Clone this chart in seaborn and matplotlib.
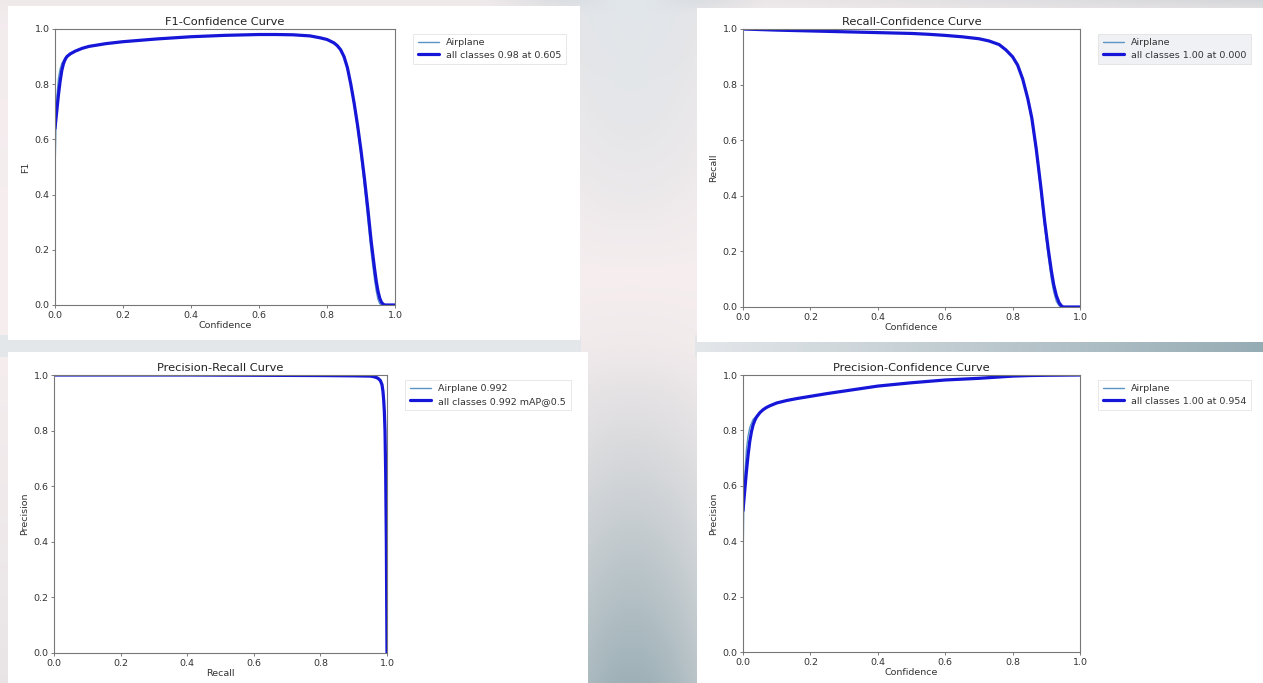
import numpy as np
import matplotlib
matplotlib.use("Agg")
import matplotlib.pyplot as plt
import seaborn as sns
from matplotlib.patches import Rectangle

# ---------------- data ----------------
# F1-Confidence
f1_all_x = [0.0, 0.005, 0.01, 0.015, 0.02, 0.025, 0.03, 0.035, 0.045, 0.06, 0.08, 0.1, 0.15, 0.2, 0.3, 0.4,
            0.5, 0.6, 0.65, 0.7, 0.75, 0.78, 0.8, 0.82, 0.83, 0.84, 0.85, 0.86, 0.87, 0.88, 0.89, 0.9,
            0.91, 0.92, 0.93, 0.94, 0.945, 0.95, 0.955, 0.96, 0.965, 0.97, 1.0]
f1_all_y = [0.64, 0.70, 0.76, 0.81, 0.85, 0.875, 0.89, 0.90, 0.91, 0.92, 0.93, 0.937, 0.947, 0.954, 0.964, 0.972,
            0.977, 0.98, 0.98, 0.979, 0.975, 0.968, 0.962, 0.95, 0.94, 0.925, 0.90, 0.86, 0.80, 0.73, 0.65, 0.56,
            0.46, 0.35, 0.23, 0.13, 0.085, 0.05, 0.025, 0.01, 0.003, 0.0, 0.0]
f1_cls_x = [0.0, 0.003, 0.006, 0.01, 0.015, 0.02, 0.03, 0.045, 0.06, 0.08, 0.1, 0.15, 0.2, 0.3, 0.4,
            0.5, 0.6, 0.65, 0.7, 0.75, 0.78, 0.8, 0.82, 0.83, 0.84, 0.85, 0.86, 0.87, 0.88, 0.89, 0.9,
            0.91, 0.92, 0.93, 0.94, 0.945, 0.95, 0.955, 0.96, 1.0]
f1_cls_y = [0.48, 0.66, 0.76, 0.82, 0.855, 0.875, 0.895, 0.912, 0.921, 0.93, 0.937, 0.947, 0.954, 0.964, 0.972,
            0.977, 0.98, 0.98, 0.979, 0.975, 0.968, 0.962, 0.95, 0.94, 0.925, 0.90, 0.86, 0.80, 0.72, 0.64, 0.54,
            0.43, 0.31, 0.19, 0.09, 0.05, 0.02, 0.005, 0.0, 0.0]

# Recall-Confidence
rc_all_x = [0.0, 0.1, 0.2, 0.3, 0.4, 0.5, 0.55, 0.6, 0.65, 0.7, 0.73, 0.76, 0.78, 0.8, 0.815, 0.83,
            0.845, 0.857, 0.87, 0.884, 0.895, 0.906, 0.915, 0.922, 0.93, 0.938, 0.945, 0.95, 1.0]
rc_all_y = [1.0, 0.996, 0.993, 0.99, 0.987, 0.984, 0.981, 0.977, 0.972, 0.965, 0.957, 0.944, 0.925, 0.90, 0.87, 0.82,
            0.75, 0.68, 0.57, 0.43, 0.31, 0.206, 0.13, 0.08, 0.04, 0.015, 0.004, 0.0, 0.0]
rc_cls_x = [0.0, 0.1, 0.2, 0.3, 0.4, 0.5, 0.55, 0.6, 0.65, 0.7, 0.73, 0.76, 0.78, 0.8, 0.815, 0.83,
            0.845, 0.857, 0.87, 0.884, 0.895, 0.906, 0.915, 0.922, 0.93, 0.938, 0.944, 1.0]
rc_cls_y = [1.0, 0.996, 0.993, 0.99, 0.987, 0.984, 0.981, 0.977, 0.972, 0.965, 0.957, 0.944, 0.925, 0.90, 0.87, 0.82,
            0.75, 0.67, 0.56, 0.41, 0.29, 0.18, 0.10, 0.055, 0.02, 0.004, 0.0, 0.0]

# Precision-Recall
pr_all_x = [0.0, 0.2, 0.4, 0.6, 0.8, 0.9, 0.95, 0.96, 0.97, 0.975, 0.98, 0.985, 0.988, 0.99, 0.992,
            0.994, 0.996, 0.998, 0.999, 1.0]
pr_all_y = [1.0, 1.0, 1.0, 0.999, 0.998, 0.997, 0.996, 0.994, 0.99, 0.986, 0.98, 0.965, 0.94, 0.91, 0.87,
            0.80, 0.65, 0.4, 0.2, 0.0]
pr_cls_x = pr_all_x
pr_cls_y = pr_all_y

# Precision-Confidence
pc_all_x = [0.0, 0.005, 0.01, 0.015, 0.02, 0.025, 0.03, 0.035, 0.04, 0.05, 0.06, 0.07, 0.08, 0.1, 0.13, 0.16,
            0.2, 0.25, 0.3, 0.35, 0.4, 0.45, 0.5, 0.55, 0.6, 0.65, 0.7, 0.75, 0.8, 0.85, 0.9, 1.0]
pc_all_y = [0.51, 0.58, 0.65, 0.71, 0.76, 0.795, 0.82, 0.836, 0.848, 0.864, 0.875, 0.883, 0.889, 0.899, 0.908, 0.915,
            0.923, 0.933, 0.942, 0.951, 0.96, 0.966, 0.972, 0.977, 0.982, 0.985, 0.988, 0.992, 0.996, 0.998, 0.999, 1.0]
pc_cls_x = [0.0, 0.002, 0.005, 0.01, 0.015, 0.02, 0.03, 0.04, 0.05, 0.06, 0.07, 0.08, 0.1, 0.13, 0.16,
            0.2, 0.25, 0.3, 0.35, 0.4, 0.45, 0.5, 0.55, 0.6, 0.65, 0.7, 0.75, 0.8, 0.85, 0.9, 1.0]
pc_cls_y = [0.30, 0.50, 0.63, 0.73, 0.78, 0.81, 0.84, 0.852, 0.865, 0.875, 0.883, 0.889, 0.899, 0.908, 0.915,
            0.923, 0.933, 0.942, 0.951, 0.96, 0.966, 0.972, 0.977, 0.982, 0.985, 0.988, 0.992, 0.996, 0.998, 0.999, 1.0]

titles = ["F1-Confidence Curve", "Recall-Confidence Curve", "Precision-Recall Curve", "Precision-Confidence Curve"]
xlabels = ["Confidence", "Confidence", "Recall", "Confidence"]
ylabels = ["F1", "Recall", "Precision", "Precision"]
cls_labels = ["Airplane", "Airplane", "Airplane 0.992", "Airplane"]
all_labels = ["all classes 0.98 at 0.605", "all classes 1.00 at 0.000",
              "all classes 0.992 mAP@0.5", "all classes 1.00 at 0.954"]
series = [(f1_cls_x, f1_cls_y, f1_all_x, f1_all_y),
          (rc_cls_x, rc_cls_y, rc_all_x, rc_all_y),
          (pr_cls_x, pr_cls_y, pr_all_x, pr_all_y),
          (pc_cls_x, pc_cls_y, pc_all_x, pc_all_y)]

# ---------------- figure ----------------
sns.set_theme(style="white")
plt.rcParams['font.family'] = ['DejaVu Sans']
W, H = 1263, 683
fig = plt.figure(figsize=(W / 100, H / 100), dpi=100)

# background gradient
bg = fig.add_axes([0, 0, 1, 1], zorder=-10)
yy, xx = np.mgrid[0:1:683j, 0:1:1263j]
light = np.array([246, 238, 239]) / 255
dark = np.array([142, 166, 173]) / 255
top = np.array([226, 231, 235]) / 255
ty = np.interp(yy, [0, 0.02, 0.1, 0.4, 0.5, 0.7, 1.0], [0.45, 0.2, 0.15, 0.0, 0.05, 0.35, 0.85])
wx = np.maximum(np.exp(-((xx - 0.5) / 0.085) ** 2),
                0.15 + 0.55 * np.clip((xx - 0.55) / 0.45, 0, 1))
t = np.clip(ty * wx, 0, 1)[..., None]
img = light * (1 - t) + dark * t
topmix = np.clip((0.4 - yy) / 0.4, 0, 1)[..., None] * np.exp(-((xx - 0.5) / 0.06) ** 2)[..., None]
img = img * (1 - topmix) + top * topmix
# band between the two rows: light gray on the left, teal-gray towards the right
band = (yy > 335 / 683) & (yy < 357 / 683)
gapcol = np.array([228, 231, 234]) / 255
gapdark = np.array([150, 172, 180]) / 255
gt = np.clip((xx - 0.55) / 0.45, 0, 1)[..., None]
gap_img = gapcol * (1 - gt) + gapdark * gt
img = np.where(band[..., None] & ((xx < 0.46) | (xx > 0.55))[..., None], gap_img, img)
bg.imshow(np.clip(img, 0, 1), aspect="auto", extent=[0, 1, 1, 0])
bg.set_xlim(0, 1); bg.set_ylim(1, 0)
bg.axis("off")

# white panels (pixel boxes: left, top, right, bottom)
panels = [(8, 6, 580, 340), (697, 8, 1263, 342), (8, 352, 588, 683), (697, 352, 1263, 683)]
for l, tp, r, b in panels:
    fig.patches.append(Rectangle((l / W, 1 - b / H), (r - l) / W, (b - tp) / H,
                                 transform=fig.transFigure, facecolor="white",
                                 edgecolor="none", zorder=-5))

axes_px = [(55, 29, 395, 305), (743, 29, 1080, 307), (54, 375, 387, 653), (743, 375, 1080, 652)]
legend_face = ["white", "#eceef3", "white", "white"]

for i, (l, tp, r, b) in enumerate(axes_px):
    ax = fig.add_axes([l / W, 1 - b / H, (r - l) / W, (b - tp) / H])
    cx, cy, ax_x, ax_y = series[i]
    sns.lineplot(x=cx, y=cy, ax=ax, sort=False, estimator=None, color="#5b95c6",
                 linewidth=1.0, label=cls_labels[i])
    sns.lineplot(x=ax_x, y=ax_y, ax=ax, sort=False, estimator=None, color="#1616d8",
                 linewidth=2.3, label=all_labels[i])
    ax.set_xlim(0, 1)
    ax.set_ylim(0, 1)
    ax.set_xticks([0, 0.2, 0.4, 0.6, 0.8, 1.0])
    ax.set_yticks([0, 0.2, 0.4, 0.6, 0.8, 1.0])
    ax.tick_params(axis="both", labelsize=6.8, length=2.5, width=0.6, color="#666666",
                   labelcolor="#333333", pad=1.5, bottom=True, left=True)
    ax.set_xlabel(xlabels[i], fontsize=6.8, color="#333333", labelpad=1)
    ax.set_ylabel(ylabels[i], fontsize=6.8, color="#333333", labelpad=3)
    ax.set_title(titles[i], fontsize=8.2, color="#222222", pad=3)
    for s in ax.spines.values():
        s.set_color("#777777")
        s.set_linewidth(0.8)
    ax.set_facecolor("white")
    leg = ax.legend(bbox_to_anchor=(1.04, 1), loc="upper left", fontsize=6.8,
                    frameon=True, fancybox=False, borderpad=0.5, handlelength=2.2,
                    labelspacing=0.35)
    leg.get_frame().set_edgecolor("#dddddd")
    leg.get_frame().set_facecolor(legend_face[i])
    leg.get_frame().set_linewidth(0.6)
    for txt in leg.get_texts():
        txt.set_color("#333333")

fig.savefig("out.png", dpi=100)
